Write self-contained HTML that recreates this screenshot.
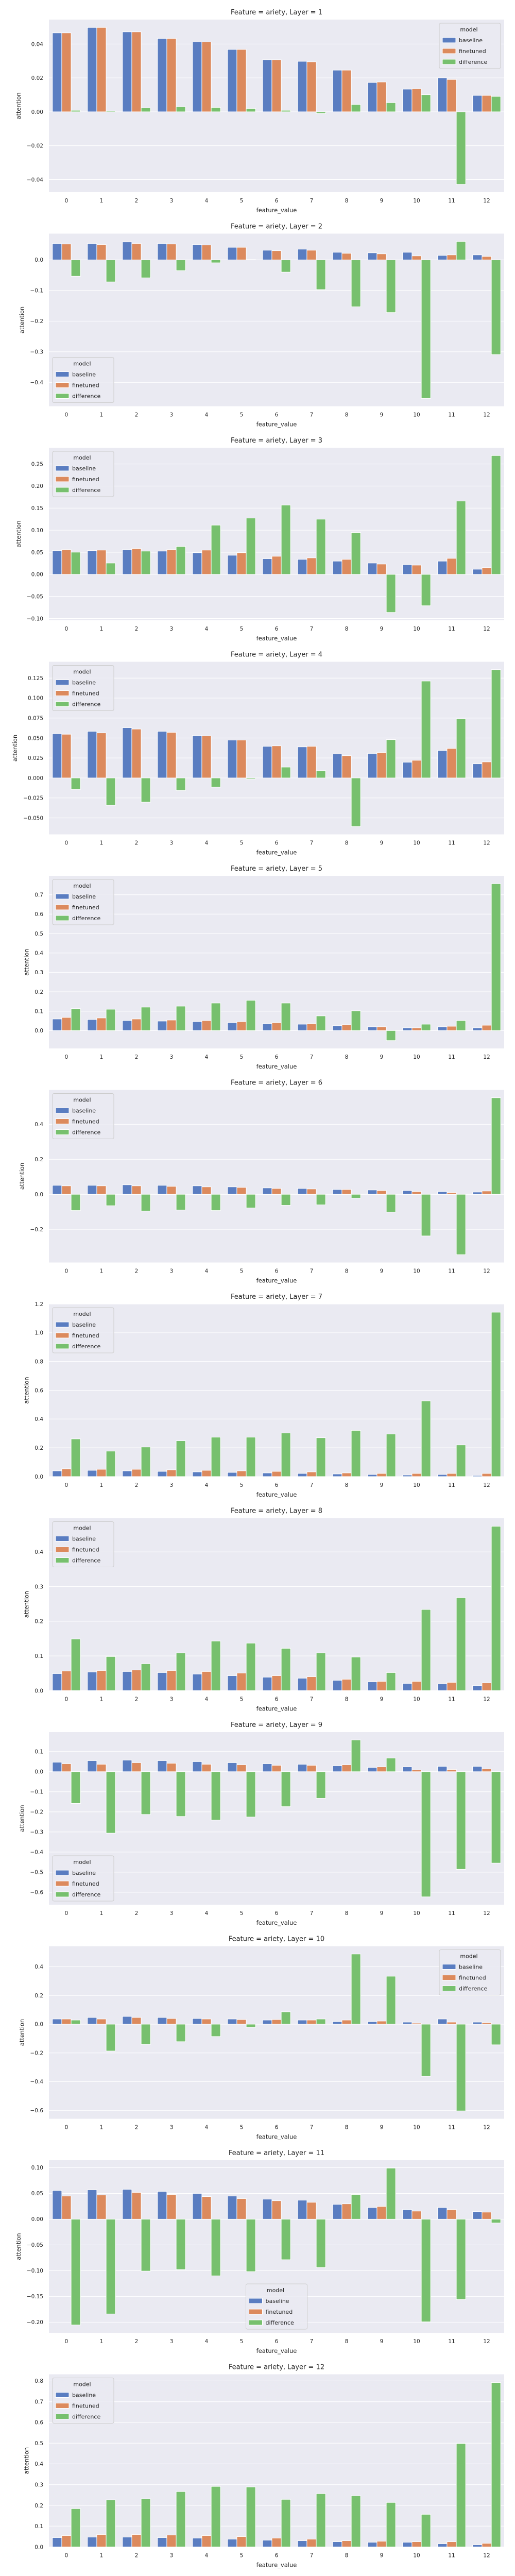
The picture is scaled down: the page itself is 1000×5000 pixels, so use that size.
<!DOCTYPE html>
<html><head><meta charset="utf-8">
<style>
html,body{margin:0;padding:0;background:#fff;}
svg{display:block;font-family:"DejaVu Sans","Liberation Sans",sans-serif;}
</style></head>
<body>
<svg id="fig" width="1000" height="5000" viewBox="0 0 1000 5000" xmlns="http://www.w3.org/2000/svg"></svg>
<script>
const categories = ["0","1","2","3","4","5","6","7","8","9","10","11","12"];
const layers = [1,2,3,4,5,6,7,8,9,10,11,12];
const seriesNames = ["baseline","finetuned","difference"];

const baseline = [
 [0.0466,0.0498,0.0472,0.0433,0.0412,0.0368,0.0307,0.0298,0.0246,0.0173,0.0134,0.0200,0.0097],
 [0.0535,0.0535,0.0586,0.0535,0.050,0.041,0.0315,0.035,0.0248,0.023,0.0248,0.0146,0.0163],
 [0.0538,0.0538,0.056,0.0527,0.049,0.0433,0.0355,0.034,0.030,0.0257,0.022,0.030,0.0117],
 [0.0554,0.0584,0.0629,0.0584,0.0532,0.0474,0.0396,0.0389,0.030,0.0307,0.0197,0.0344,0.0177],
 [0.0597,0.057,0.0516,0.049,0.0463,0.041,0.0356,0.033,0.025,0.0196,0.0142,0.0196,0.0142],
 [0.0514,0.0514,0.0543,0.0514,0.0484,0.0425,0.0365,0.0336,0.0277,0.0247,0.0217,0.0158,0.0128],
 [0.0397,0.0433,0.0397,0.036,0.0325,0.0288,0.0252,0.0216,0.018,0.0144,0.0108,0.0144,0.0072],
 [0.0492,0.0537,0.0552,0.0522,0.0477,0.0432,0.0388,0.0358,0.0298,0.0253,0.0209,0.0194,0.0149],
 [0.0473,0.055,0.0577,0.055,0.050,0.0448,0.0396,0.037,0.0293,0.0215,0.024,0.0267,0.0267],
 [0.036,0.0467,0.054,0.0467,0.0395,0.036,0.0287,0.0287,0.018,0.018,0.0144,0.036,0.0144],
 [0.0559,0.057,0.058,0.054,0.050,0.0449,0.0389,0.0369,0.0288,0.0228,0.0188,0.0228,0.0147],
 [0.0449,0.0473,0.0473,0.0449,0.0424,0.0374,0.0324,0.0299,0.0249,0.0224,0.0224,0.015,0.010]
];
const finetuned = [
 [0.0466,0.0498,0.0472,0.0433,0.0412,0.0368,0.0307,0.0295,0.0246,0.0176,0.0136,0.0191,0.0097],
 [0.0518,0.050,0.0535,0.0518,0.0485,0.041,0.030,0.0315,0.0214,0.0197,0.013,0.0163,0.0113],
 [0.056,0.055,0.0585,0.056,0.055,0.049,0.041,0.0374,0.034,0.0234,0.021,0.0363,0.0152],
 [0.0547,0.0564,0.0612,0.0571,0.0526,0.0474,0.0402,0.0396,0.0279,0.0318,0.0221,0.037,0.0201],
 [0.0677,0.065,0.0597,0.0543,0.0516,0.0463,0.041,0.0356,0.030,0.0196,0.0142,0.0223,0.0276],
 [0.0484,0.0484,0.0484,0.0454,0.0425,0.0395,0.0336,0.0306,0.0277,0.0217,0.0158,0.0099,0.0188],
 [0.054,0.0505,0.0505,0.047,0.0433,0.0397,0.036,0.0325,0.0252,0.0216,0.0216,0.0216,0.0216],
 [0.0566,0.0581,0.0596,0.0581,0.0552,0.0507,0.0432,0.0402,0.0328,0.0268,0.0268,0.0239,0.0224],
 [0.0396,0.037,0.0448,0.042,0.037,0.0344,0.0318,0.0318,0.0344,0.024,0.0086,0.0112,0.0138],
 [0.036,0.036,0.0467,0.0395,0.036,0.0323,0.0323,0.0287,0.0287,0.0216,0.0072,0.0144,0.0108],
 [0.0449,0.0469,0.052,0.048,0.0439,0.040,0.0358,0.0328,0.0298,0.0248,0.0157,0.0188,0.0137],
 [0.0548,0.0598,0.0598,0.0573,0.0548,0.0498,0.0424,0.0374,0.0299,0.0274,0.0249,0.0249,0.0174]
];
const difference = [
 [0.0009,0.0005,0.0023,0.003,0.0026,0.002,0.0009,-0.001,0.0043,0.0054,0.0101,-0.0428,0.0091],
 [-0.0535,-0.072,-0.0586,-0.035,-0.0096,0.001,-0.040,-0.097,-0.153,-0.172,-0.452,0.060,-0.309],
 [0.0503,0.0257,0.0527,0.0632,0.1115,0.1275,0.157,0.125,0.0948,-0.0862,-0.071,0.166,0.269],
 [-0.0143,-0.0342,-0.0303,-0.0156,-0.0115,-0.0013,0.0136,0.0091,-0.0608,0.048,0.1213,0.074,0.1356],
 [0.113,0.110,0.121,0.126,0.142,0.156,0.142,0.0757,0.102,-0.0516,0.033,0.0516,0.757],
 [-0.0928,-0.0652,-0.0958,-0.0899,-0.0928,-0.078,-0.0632,-0.0602,-0.0217,-0.1017,-0.238,-0.345,0.552],
 [0.262,0.177,0.2055,0.249,0.274,0.274,0.303,0.270,0.321,0.296,0.526,0.22,1.143],
 [0.149,0.0984,0.0775,0.1088,0.143,0.137,0.122,0.1088,0.0969,0.0522,0.234,0.268,0.474],
 [-0.158,-0.306,-0.213,-0.223,-0.241,-0.2255,-0.174,-0.1326,0.158,0.068,-0.623,-0.486,-0.455],
 [0.0287,-0.187,-0.141,-0.122,-0.086,-0.0216,0.0862,0.036,0.4886,0.334,-0.363,-0.604,-0.1437],
 [-0.2054,-0.184,-0.1008,-0.0978,-0.110,-0.1018,-0.0787,-0.0938,0.048,0.0992,-0.1993,-0.156,-0.0074],
 [0.1844,0.2267,0.2317,0.2666,0.2915,0.289,0.2292,0.2566,0.2467,0.2143,0.157,0.4983,0.7924]
];
const yTicks = [
 [-0.04,-0.02,0,0.02,0.04],
 [-0.4,-0.3,-0.2,-0.1,0],
 [-0.10,-0.05,0,0.05,0.10,0.15,0.20,0.25],
 [-0.050,-0.025,0,0.025,0.050,0.075,0.100,0.125],
 [0,0.1,0.2,0.3,0.4,0.5,0.6,0.7],
 [-0.2,0,0.2,0.4],
 [0,0.2,0.4,0.6,0.8,1.0,1.2],
 [0,0.1,0.2,0.3,0.4],
 [-0.6,-0.5,-0.4,-0.3,-0.2,-0.1,0,0.1],
 [-0.6,-0.4,-0.2,0,0.2,0.4],
 [-0.20,-0.15,-0.10,-0.05,0,0.05,0.10],
 [0,0.1,0.2,0.3,0.4,0.5,0.6,0.7,0.8]
];
const yTickDecimals = [2,1,2,3,1,1,1,1,1,1,2,1];
const legendLoc = ["upper right","lower left","upper left","upper left","upper left","upper left","upper left","upper left","lower left","upper right","lower center","upper left"];

const colors = ["#5a7dc1","#dc8a5d","#77c06e"];
const NS = "http://www.w3.org/2000/svg";
const svg = document.getElementById("fig");
const PX0 = 95, PX1 = 979, PH = 335, TOP0 = 38, STEP = 415.5;

function mk(tag, attrs, parent){
  const e = document.createElementNS(NS, tag);
  for (const k in attrs) e.setAttribute(k, attrs[k]);
  (parent||svg).appendChild(e);
  return e;
}
function fmt(v, d){
  const s = Math.abs(v).toFixed(d);
  return (v < -1e-12 ? "\u2212" : "") + s;
}

layers.forEach(function(layer, p){
  const top = TOP0 + p*STEP;
  const bottom = top + PH;
  const g = mk("g", {});
  
  

  const all = baseline[p].concat(finetuned[p], difference[p]);
  let mn = Math.min.apply(null, all), mx = Math.max.apply(null, all);
  let lo, hi;
  if (mn >= 0) { lo = 0; hi = mx * 1.05; }
  else if (mx <= 0) { hi = 0; lo = mn * 1.05; }
  else { const r = mx - mn; lo = mn - 0.05*r; hi = mx + 0.05*r; }
  const y = function(v){ return bottom - (v - lo) / (hi - lo) * PH; };
  const band = (PX1 - PX0) / categories.length;
  const x = function(i){ return PX0 + band*(i + 0.5); };

  const bg = mk("rect", {x:PX0, y:top, width:PX1-PX0, height:PH, fill:"#eaeaf2"}, g);
  
  

  // grid & y ticks
  let maxW = 0;
  const tickTexts = [];
  yTicks[p].forEach(function(t){
    const yy = y(t);
    const gl = mk("line", {x1:PX0, x2:PX1, y1:yy, y2:yy, stroke:"#ffffff", "stroke-width":1.1}, g);
    
    
    const tx = mk("text", {x:84, y:yy+3.8, "text-anchor":"end", "font-size":"10.5", fill:"#262626"}, g);
    tx.textContent = fmt(t, yTickDecimals[p]);
    
    
    tickTexts.push(tx);
  });

  // bars
  const sets = [baseline[p], finetuned[p], difference[p]];
  const bw = band * 0.8 / 3;
  sets.forEach(function(vals, s){
    vals.forEach(function(v, i){
      const cx = x(i) - band*0.4 + bw*s;
      const y0 = y(0), y1 = y(v);
      const r = mk("rect", {x:cx, y:Math.min(y0,y1), width:bw, height:Math.max(Math.abs(y1-y0),0.5), fill:colors[s], stroke:"#ffffff", "stroke-width":1}, g);
      
      
    });
  });

  // x tick labels
  categories.forEach(function(c, i){
    const tx = mk("text", {x:x(i), y:bottom+20, "text-anchor":"middle", "font-size":"10.5", fill:"#262626"}, g);
    tx.textContent = c;
    
    
  });

  const xl = mk("text", {x:(PX0+PX1)/2, y:bottom+39, "text-anchor":"middle", "font-size":"11.5", fill:"#262626"}, g);
  xl.textContent = "feature_value";
  
  

  const tt = mk("text", {x:(PX0+PX1)/2, y:top-10, "text-anchor":"middle", "font-size":"13", fill:"#262626"}, g);
  tt.textContent = "Feature = ariety, Layer = " + layer;
  
  

  tickTexts.forEach(function(t){ try { maxW = Math.max(maxW, t.getComputedTextLength()); } catch(e){} });
  const ylx = 84 - maxW - 12;
  const yl = mk("text", {x:ylx, y:(top+bottom)/2, "text-anchor":"middle", "font-size":"11.5", fill:"#262626", transform:"rotate(-90 "+ylx+" "+((top+bottom)/2)+")"}, g);
  yl.textContent = "attention";
  
  

  // legend
  const LW = 119, LH = 88;
  const loc = legendLoc[p];
  let lx, ly;
  if (loc.indexOf("right") >= 0) lx = PX1 - 7 - LW;
  else if (loc.indexOf("center") >= 0) lx = (PX0+PX1)/2 - LW/2;
  else lx = PX0 + 7;
  ly = loc.indexOf("upper") >= 0 ? top + 7 : bottom - 7 - LH;
  const lg = mk("g", {}, g);
  
  
  mk("rect", {x:lx, y:ly, width:LW, height:LH, rx:3, fill:"#eaeaf2", "fill-opacity":0.85, stroke:"#cccccc", "stroke-width":1}, lg);
  const lt = mk("text", {x:lx+LW/2-2, y:ly+16, "text-anchor":"middle", "font-size":"11", fill:"#262626"}, lg);
  lt.textContent = "model";
  
  
  seriesNames.forEach(function(nm, s){
    const ry = ly + 33 + s*21;
    const e = mk("g", {}, lg);
    
    
    mk("rect", {x:lx+6, y:ry-5, width:26, height:10, fill:colors[s], stroke:"#ffffff", "stroke-width":1}, e);
    const et = mk("text", {x:lx+38, y:ry+4, "font-size":"11", fill:"#262626"}, e);
    et.textContent = nm;
  });
});
</script>
</body></html>
